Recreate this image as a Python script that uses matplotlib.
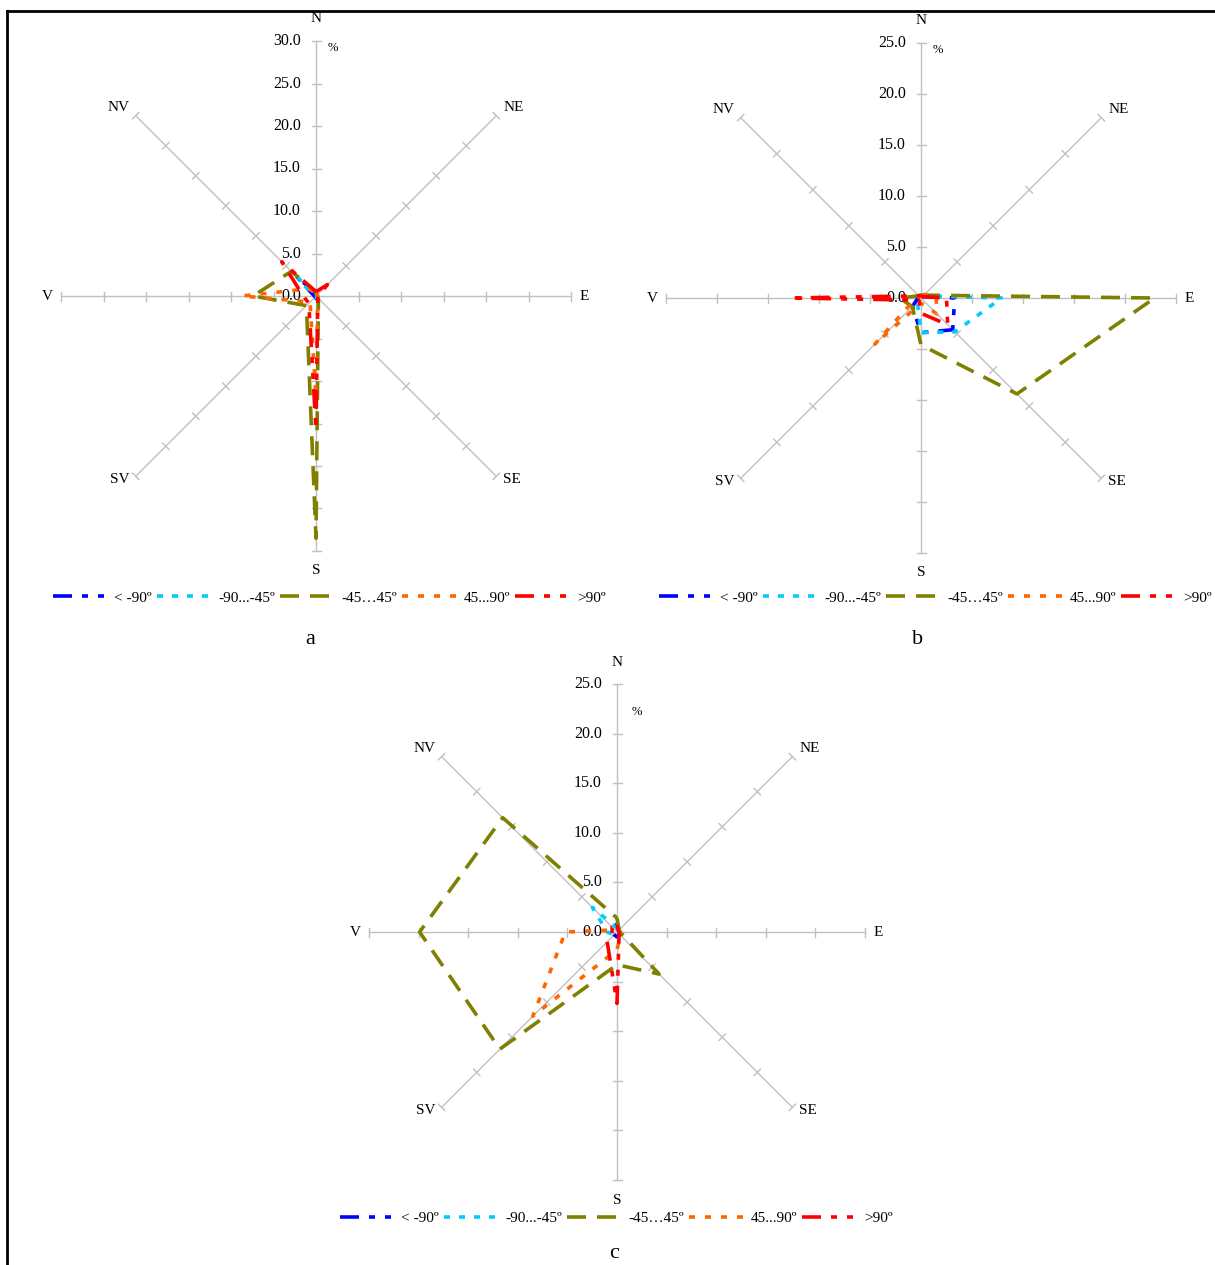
import numpy as np
import matplotlib.pyplot as plt
from matplotlib.lines import Line2D

plt.rcParams["font.family"] = ["Liberation Serif", "DejaVu Serif"]
plt.rcParams["lines.scale_dashes"] = False

W, H, DPI = 1215, 1265, 100

directions = ["N", "NE", "E", "SE", "S", "SV", "V", "NV"]
classes = ["< -90º", "-90...-45º", "-45…45º", "45...90º", ">90º"]

# frequency (%) per wind direction for each angle class
# panel a
a_below90 = [0.3, 0.1, 0.1, 0.1, 0.3, 0.1, 0.2, 3.3]
a_m90_m45 = [0.3, 0.1, 0.1, 0.1, 0.2, 0.1, 0.3, 3.0]
a_m45_45 = [0.5, 0.2, 0.2, 0.4, 28.5, 1.6, 7.4, 4.1]
a_45_90 = [0.3, 0.2, 0.2, 0.3, 12.0, 1.0, 8.7, 1.2]
a_above90 = [0.5, 1.9, 0.3, 0.3, 15.7, 1.2, 1.5, 5.7]

# panel b
b_below90 = [0.2, 0.2, 3.3, 4.4, 3.4, 1.2, 0.3, 0.3]
b_m90_m45 = [0.2, 0.3, 7.9, 4.7, 3.4, 0.5, 0.3, 0.2]
b_m45_45 = [0.3, 0.4, 22.9, 13.3, 4.6, 1.2, 2.1, 0.3]
b_45_90 = [0.2, 0.5, 1.5, 2.2, 0.5, 6.4, 0.5, 0.2]
b_above90 = [0.3, 0.2, 2.5, 3.7, 1.5, 0.3, 12.8, 0.3]

# panel c
c_below90 = [0.8, 0.3, 0.3, 0.4, 0.5, 0.4, 0.5, 0.6]
c_m90_m45 = [0.4, 0.2, 0.2, 0.3, 0.4, 0.4, 1.0, 3.5]
c_m45_45 = [1.4, 0.3, 0.3, 6.0, 3.3, 16.7, 19.9, 16.3]
c_45_90 = [0.3, 0.3, 0.3, 0.5, 1.8, 12.0, 5.2, 0.3]
c_above90 = [0.7, 0.2, 0.2, 0.3, 7.2, 1.4, 0.5, 0.7]

colors = ["#0000FF", "#00CCFF", "#808000", "#FF6600", "#FF0000"]
pt = 0.72  # points per pixel at 100 dpi
dashes = [
    [19 * pt, 10 * pt, 6 * pt, 10 * pt, 6 * pt, 10 * pt],
    [6 * pt, 9 * pt],
    [19 * pt, 11 * pt],
    [6 * pt, 10 * pt],
    [19 * pt, 10 * pt, 6 * pt, 10 * pt, 6 * pt, 10 * pt],
]
lw = 3.6 * pt
grid_color = "#C0C0C0"

theta = np.deg2rad(np.arange(0, 360, 45))

# label offsets (pixels) beyond the end of each spoke
label_offsets = [(0, 22), (17, 8), (13, 0), (16, -3), (0, -20), (-16, -3), (-14, 0), (-17, 8)]

fig = plt.figure(figsize=(W / DPI, H / DPI), dpi=DPI)


def draw_panel(cx, cy, radius_px, rmax, series, pct_off, legend_cx, legend_cy, letter, letter_xy):
    scale = radius_px / rmax
    half = 300
    ax = fig.add_axes([(cx - half) / W, 1 - (cy + half) / H, 2 * half / W, 2 * half / H])
    lim = half / scale
    ax.set_xlim(-lim, lim)
    ax.set_ylim(-lim, lim)
    ax.axis("off")

    # spokes with tick marks every 5 %
    tick_half = 4.5 / scale
    for th in theta:
        ux, uy = np.sin(th), np.cos(th)
        ax.plot([0, rmax * ux], [0, rmax * uy], color=grid_color, lw=1, zorder=1)
        for r in np.arange(5, rmax + 0.1, 5):
            px, py = r * ux, r * uy
            ax.plot([px - tick_half * uy, px + tick_half * uy],
                    [py + tick_half * ux, py - tick_half * ux],
                    color=grid_color, lw=1, zorder=1)

    # value labels on the north spoke
    for r in np.arange(0, rmax + 0.1, 5):
        ax.annotate(f"{r:.1f}", xy=(0, r), xytext=(-15, 0), textcoords="offset pixels",
                    ha="right", va="center", fontsize=11.5)
    ax.annotate("%", xy=(0, rmax), xytext=pct_off, textcoords="offset pixels",
                ha="center", va="center", fontsize=9)

    # direction labels
    for name, th, off in zip(directions, theta, label_offsets):
        ax.annotate(name, xy=(rmax * np.sin(th), rmax * np.cos(th)), xytext=off,
                    textcoords="offset pixels", ha="center", va="center", fontsize=11)

    handles = []
    for vals, col, ds in zip(series, colors, dashes):
        v = np.append(vals, vals[0])
        t = np.append(theta, theta[0])
        ln, = ax.plot(v * np.sin(t), v * np.cos(t), color=col, lw=lw, dashes=ds,
                      solid_capstyle="butt", dash_capstyle="butt", zorder=3)
        handles.append(ln)

    ax.legend(handles, classes, loc="center", bbox_to_anchor=(legend_cx / W, 1 - legend_cy / H),
              bbox_transform=fig.transFigure, ncol=5, frameon=False, fontsize=11,
              handlelength=3.8, handletextpad=0.25, columnspacing=0.3, borderpad=0)

    fig.text(letter_xy[0] / W, 1 - letter_xy[1] / H, letter, ha="center", va="center", fontsize=16)


draw_panel(316, 296, 255, 30, [a_below90, a_m90_m45, a_m45_45, a_45_90, a_above90],
           (17, -7), 329, 598, "a", (310, 639))
draw_panel(921, 298, 255, 25, [b_below90, b_m90_m45, b_m45_45, b_45_90, b_above90],
           (17, -7), 935, 598, "b", (918, 639))
draw_panel(617, 932, 248, 25, [c_below90, c_m90_m45, c_m45_45, c_45_90, c_above90],
           (20, -28), 616, 1218, "c", (614, 1253))

# outer frame (top and left edges)
fig.add_artist(Line2D([7 / W, 1], [1 - 11 / H, 1 - 11 / H], transform=fig.transFigure,
                      color="black", lw=2))
fig.add_artist(Line2D([7 / W, 7 / W], [0, 1 - 11 / H], transform=fig.transFigure,
                      color="black", lw=2))

fig.savefig("out.png", dpi=DPI)
